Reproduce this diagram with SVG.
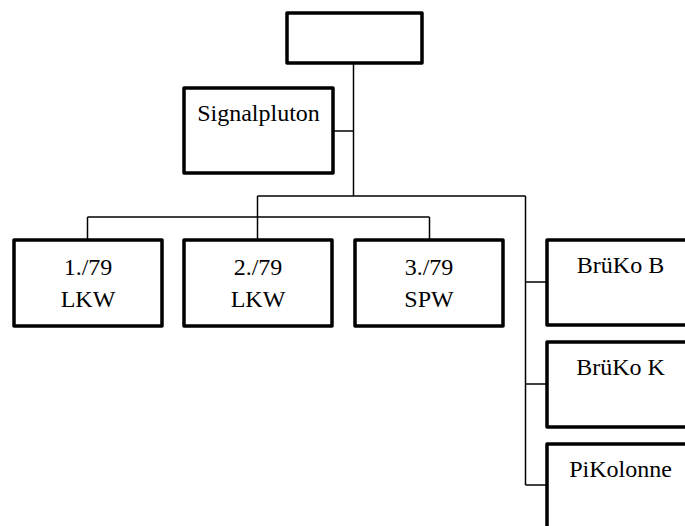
<svg xmlns="http://www.w3.org/2000/svg" width="685" height="526" viewBox="0 0 685 526">
  <style>
    .box { fill: #ffffff; stroke: #000000; stroke-width: 3.5; stroke-linejoin: round; }
    .link { fill: none; stroke: #000000; stroke-width: 1.5; }
    text { font-size: 24px; fill: #000000; text-anchor: middle; }
  </style>
  <rect width="685" height="526" fill="#ffffff"/>

  <!-- connectors -->
  <g id="connectors">
    <path class="link" d="M353.5 63 V196"/>
    <path class="link" d="M333 131 H353.5"/>
    <path class="link" d="M257.5 196 H525.5"/>
    <path class="link" d="M257.5 196 V240"/>
    <path class="link" d="M87.5 217 H429.5"/>
    <path class="link" d="M87.5 217 V240"/>
    <path class="link" d="M429.5 217 V240"/>
    <path class="link" d="M525.5 196 V485"/>
    <path class="link" d="M525.5 282 H547"/>
    <path class="link" d="M525.5 384 H547"/>
    <path class="link" d="M525.5 485 H547"/>
  </g>

  <g font-family="Times New Roman, Liberation Serif, DejaVu Serif, serif">
    <g id="top">
      <rect class="box" x="287" y="13" width="135" height="50"/>
    </g>

    <g id="signalpluton">
      <rect class="box" x="184" y="88" width="149" height="85"/>
      <text x="258.5" y="121">Signalpluton</text>
    </g>

    <g id="lkw1">
      <rect class="box" x="14" y="240" width="148" height="86"/>
      <text x="88" y="275">1./79</text>
      <text x="88" y="307">LKW</text>
    </g>

    <g id="lkw2">
      <rect class="box" x="184" y="240" width="148" height="86"/>
      <text x="258" y="275">2./79</text>
      <text x="258" y="307">LKW</text>
    </g>

    <g id="spw3">
      <rect class="box" x="355" y="240" width="148" height="86"/>
      <text x="429" y="275">3./79</text>
      <text x="429" y="307">SPW</text>
    </g>

    <g id="brueko-b">
      <rect class="box" x="547" y="240" width="148" height="85"/>
      <text x="620.5" y="273">BrüKo B</text>
    </g>

    <g id="brueko-k">
      <rect class="box" x="547" y="342" width="148" height="85"/>
      <text x="620.5" y="375">BrüKo K</text>
    </g>

    <g id="pikolonne">
      <rect class="box" x="547" y="444" width="148" height="85"/>
      <text x="620.5" y="477">PiKolonne</text>
    </g>
  </g>
</svg>
